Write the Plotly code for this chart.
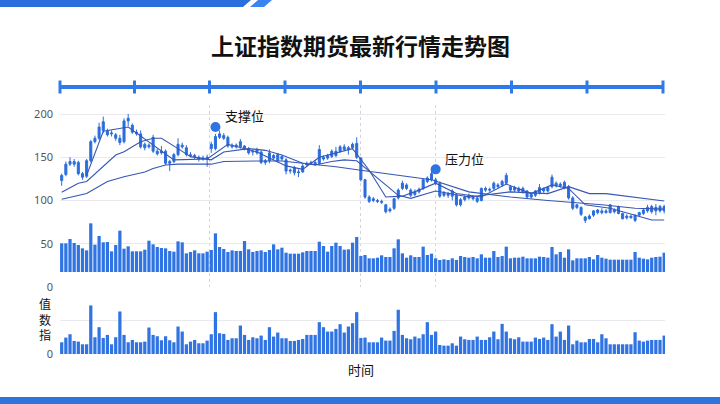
import plotly.graph_objects as go

# ---------------- data ----------------
idx = list(range(146))

opens = [123,130,142,145,144,131,128,146,168,172,181,180,177,176,172,168,192,187,179,177,
         165,162,157,157,155,157,143,145,153,164,161,153,152,150,148,150,160,160,173,175,
         173,164,162,162,163,160,156,155,156,144,146,152,146,151,147,134,138,132,133,141,
         143,144,143,150,149,151,157,157,162,159,161,150,149,124,104,100,100,99,95,88,
         91,103,114,118,112,107,110,114,122,124,124,120,106,108,105,106,95,101,103,104,
         103,100,112,113,114,118,118,120,116,112,114,114,111,104,106,109,111,111,116,120,
         117,121,116,103,95,92,81,79,83,86,88,86,86,89,93,85,82,80,83,83,
         85,88,87,88,88,88]
highs = [131,145,150,148,146,133,148,170,175,190,197,183,181,178,176,195,200,189,182,181,
         167,166,176,160,163,159,147,155,172,167,164,156,154,152,152,153,168,177,181,178,
         175,166,166,171,164,162,159,161,158,148,159,154,155,152,149,137,140,136,142,145,
         146,147,164,152,154,159,162,164,165,163,167,173,150,125,106,104,102,101,96,92,
         103,114,123,120,114,113,115,125,128,134,126,122,111,110,113,108,103,106,108,106,
         105,115,116,115,122,120,124,132,118,117,116,116,112,108,112,119,115,116,130,122,
         121,123,118,105,96,93,82,84,89,90,91,90,96,91,94,86,84,83,84,87,
         90,95,95,96,95,95]
lows = [117,128,140,139,129,124,126,144,166,170,178,174,174,169,164,166,186,177,175,160,
        158,160,155,152,153,141,134,143,151,160,151,150,148,145,146,139,155,158,171,170,
        161,160,160,160,158,153,152,153,142,141,143,147,144,146,130,131,129,127,132,139,
        141,140,141,146,147,149,150,155,157,153,159,148,122,102,97,98,97,96,85,86,
        89,101,112,112,104,105,108,112,120,122,118,103,104,103,100,93,93,99,101,100,
        97,99,110,110,112,114,116,118,110,110,109,108,102,102,104,107,109,109,114,115,
        115,113,101,89,90,82,74,78,81,84,84,85,85,85,84,78,78,79,75,81,
        83,86,85,83,86,85]
closes = [129,142,145,142,131,127,146,168,172,185,191,176,178,172,167,192,195,179,177,162,
          161,164,173,154,157,143,145,153,165,162,153,152,151,148,149,148,165,174,177,172,
          163,162,164,168,160,155,157,159,144,146,155,149,153,148,134,135,132,133,140,143,
          144,142,159,148,152,157,152,162,159,161,165,166,124,104,99,102,99,98,87,90,
          102,112,120,114,106,110,113,124,126,131,120,105,109,106,111,95,101,104,106,102,
          99,114,114,112,120,116,122,129,112,115,111,110,104,107,111,115,114,115,127,117,
          119,115,103,91,92,84,77,82,88,89,86,88,95,87,85,79,80,82,77,86,
          89,92,93,92,93,93]

vol_top = [43,43,49.5,43.5,40.5,35.5,32.5,73,41,54,44.5,45,31,40.5,62,35,38.5,31,31,31,
           33.5,47,41.5,37.5,36,35.5,31.5,30.5,46,44.5,28,30,32.5,28,28,30.5,33,58,37.5,34.5,
           30,32.5,31.5,31.5,46.5,34,30,31.5,32.5,30,33,41.5,34,36.5,29,27.5,27.5,27.5,29.5,31.5,
           31.5,31.5,45.5,39,30.5,39,44,39,33.5,34,44,52.5,24,25.5,20.5,20.5,21.5,25,22.5,22.5,
           35.5,49,28,21.5,25,22.5,22.5,38,25.5,27.5,20.5,18,19,18,20.5,18,24,22.5,21.5,22.5,
           20.5,26.5,21.5,21.5,31.5,22.5,24,38,20.5,21.5,21.5,23,20.5,20.5,20.5,23,22.5,21.5,37.5,26.5,
           30,21.5,34,17.5,20.5,20.5,20.5,22.5,19,25.5,21.5,20,18.5,18.5,18.5,18.5,18.5,18.5,30,21.5,
           20,19,21.5,22.5,23,29]

vol_bottom = [17.5,24.5,29.5,19.5,18.5,14.5,14.5,72.5,25,40,24,28.5,14.5,25,63.5,28.5,17.5,21,17.5,17.5,
              18.5,39.5,28.5,26.5,20.5,26.5,20.5,17.5,41,33.5,14.5,18.5,21,16,16,20,29.5,62.5,31,30,
              21,23.5,23.5,42.5,28.5,21,25,23.5,27.5,21,40,26,32,23.5,23.5,19.5,19.5,21,22.5,28.5,
              28.5,28.5,47.5,40,33.5,33.5,37.5,44.5,32,41,46,62.5,24,24.5,17.5,17.5,17.5,24.5,20,20,
              34.5,66,28.5,23.5,22,26,23.5,29.5,47.5,28.5,33.5,13.5,12.5,12.5,16,12.5,26,22,21,21,
              26,21,21,25,33.5,22,45,33.5,23.5,22,25,18.5,18.5,18.5,24.5,22.5,24.5,21,44.5,26,
              33.5,21,42.5,14.5,20,17.5,17.5,22.5,22.5,17.5,29.5,23.5,14.5,14.5,14.5,14.5,14.5,14.5,32.5,20,
              18.5,20,21,21,21,27.5]

line_a_idx = [0,6,11,15,20,22,25,28,36,39,47,53,58,66,72,81,89,98,108,117,130,138,145]
line_a_val = [101.5,108,122,127.5,133,137,141,142,142,145,145.7,145.7,143,139,135,129.5,124,110,104,100,95,91,90]

line_b_idx = [0,4,6,13,15,19,22,24,28,31,36,39,45,49,53,58,61,65,68,71,81,84,90,98,108,117,122,127,131,145]
line_b_val = [109.5,120,122,152.6,156.4,168,172,172,160,150.7,147,156,160,158,152.6,143,141,145,147,146,
              106,102.5,111,104,110,108,116,108,108,99.4]

line_c_idx = [6,10,16,22,27,35,40,47,54,58,62,70,74,78,82,86,90,95,101,107,113,118,122,126,132,138,142,145]
line_c_val = [129,180,185,164,147,148,165,156,140,136,150,160,135,104,105,112,120,108,104,119,108,118,114,95,91,83,77.4,77.4]

mark_idx = [37, 90]
mark_val = [185, 136]
mark_text = ["支撑位", "压力位"]
mark_text_val = [198, 149]

price_ticks = [0, 50, 100, 150, 200]

# ---------------- style ----------------
BLUE = "#2f74e2"
CANDLE = "#2c6ddc"
LINE = "#3556b5"
GRID = "#e9e9ef"
W, H = 720, 404
L, R, T, B = 60, 55, 105, 50
PW, PH = W - L - R, H - T - B


def px2x(px):
    return (px - L) / PW


def px2y(py):
    return (H - B - py) / PH


fig = go.Figure()

fig.add_trace(go.Bar(x=idx, y=vol_top, xaxis="x", yaxis="y2",
                     marker=dict(color=BLUE, line=dict(width=0)), width=0.78, showlegend=False))
for xi, yv in ((line_a_idx, line_a_val), (line_b_idx, line_b_val), (line_c_idx, line_c_val)):
    fig.add_trace(go.Scatter(x=xi, y=yv, mode="lines", xaxis="x", yaxis="y",
                             line=dict(color=LINE, width=1.1), showlegend=False))
fig.add_trace(go.Candlestick(x=idx, open=opens, high=highs, low=lows, close=closes,
                             xaxis="x", yaxis="y", whiskerwidth=0,
                             increasing=dict(line=dict(color=CANDLE, width=1), fillcolor=CANDLE),
                             decreasing=dict(line=dict(color=CANDLE, width=1), fillcolor=CANDLE),
                             showlegend=False))
fig.add_trace(go.Scatter(x=mark_idx, y=mark_val, mode="markers", xaxis="x", yaxis="y",
                         marker=dict(color=BLUE, size=10), showlegend=False))
fig.add_trace(go.Bar(x=idx, y=vol_bottom, xaxis="x2", yaxis="y3",
                     marker=dict(color=BLUE, line=dict(width=0)), width=0.78, showlegend=False))

split = (H - B - 287) / PH

fig.update_layout(
    width=W, height=H,
    margin=dict(l=L, r=R, t=T, b=B),
    paper_bgcolor="white", plot_bgcolor="white",
    font=dict(family="Noto Sans CJK SC, Noto Sans, sans-serif", color="#222"),
    bargap=0.2,
    xaxis=dict(domain=[0, 1], anchor="y", range=[-0.41, 145.2],
               tickvals=[-0.35, 35.5, 72, 90, 145], showticklabels=False,
               showgrid=True, gridcolor="#d4d4dc", griddash="dot", gridwidth=1,
               zeroline=False, showline=False, rangeslider=dict(visible=False)),
    xaxis2=dict(domain=[0, 1], anchor="y3", matches="x", showticklabels=False,
                showgrid=False, zeroline=False, showline=False, rangeslider=dict(visible=False)),
    yaxis=dict(domain=[split, 1], range=[0, 210.4], tickvals=price_ticks,
               gridcolor=GRID, zeroline=False, showline=False,
               tickfont=dict(size=11, color="#555", family="Noto Sans, sans-serif"),
               ticklabelstandoff=6),
    yaxis2=dict(domain=[split, 1], overlaying="y", range=[-22.5, 250.5], visible=False),
    yaxis3=dict(domain=[0, split], range=[0, 100], tickvals=[0, 50, 100], ticktext=["0", "", ""],
                gridcolor=GRID, zeroline=False, showline=False,
                tickfont=dict(size=11, color="#555", family="Noto Sans, sans-serif"),
                ticklabelstandoff=6),
)

annotations = [
    dict(text="<b>上证指数期货最新行情走势图</b>", xref="paper", yref="paper",
         x=px2x(360), y=px2y(45), xanchor="center", yanchor="middle", showarrow=False,
         font=dict(size=23, color="#111", family="Noto Sans CJK SC")),
    dict(text="时间", xref="paper", yref="paper", x=px2x(361), y=px2y(369),
         xanchor="center", yanchor="middle", showarrow=False,
         font=dict(size=13, color="#111", family="Noto Sans CJK SC")),
    dict(text="值<br>数<br>指", xref="paper", yref="paper", x=px2x(45), y=px2y(319),
         xanchor="center", yanchor="middle", showarrow=False, align="center",
         font=dict(size=12, color="#111", family="Noto Sans CJK SC")),
]
for xi, tv, tx in zip(mark_idx, mark_text_val, mark_text):
    annotations.append(dict(text=tx, x=xi + 1.7, y=tv, xref="x", yref="y",
                            xanchor="left", yanchor="middle", showarrow=False,
                            font=dict(size=13, color="#111", family="Noto Sans CJK SC")))
fig.update_layout(annotations=annotations)

shapes = []
# top banner decoration
shapes.append(dict(type="path", xref="paper", yref="paper",
                   path=f"M {px2x(0)},{px2y(0)} L {px2x(251)},{px2y(0)} L {px2x(243)},{px2y(7)} L {px2x(0)},{px2y(7)} Z",
                   fillcolor="#2a6fdc", line=dict(width=0)))
shapes.append(dict(type="path", xref="paper", yref="paper",
                   path=f"M {px2x(258)},{px2y(0)} L {px2x(272)},{px2y(0)} L {px2x(264)},{px2y(7)} L {px2x(250)},{px2y(7)} Z",
                   fillcolor="#3a86f0", line=dict(width=0)))
# bottom band
shapes.append(dict(type="rect", xref="paper", yref="paper",
                   x0=px2x(0), x1=px2x(720), y0=px2y(397), y1=px2y(404),
                   fillcolor="#2f74dc", line=dict(width=0)))
# timeline decoration
shapes.append(dict(type="line", xref="paper", yref="paper",
                   x0=px2x(60), x1=px2x(663), y0=px2y(87), y1=px2y(87),
                   line=dict(color="#2f7ae6", width=4)))
for tx in [60, 134.5, 209.5, 285, 360.5, 436, 511.5, 587, 663]:
    shapes.append(dict(type="line", xref="paper", yref="paper",
                       x0=px2x(tx), x1=px2x(tx), y0=px2y(80.5), y1=px2y(93.5),
                       line=dict(color="#2f7ae6", width=3)))
fig.update_layout(shapes=shapes)

fig.write_html("out.html",
               config={"displayModeBar": False},
               post_script="document.body.style.margin='0';document.body.style.overflow='hidden';")
